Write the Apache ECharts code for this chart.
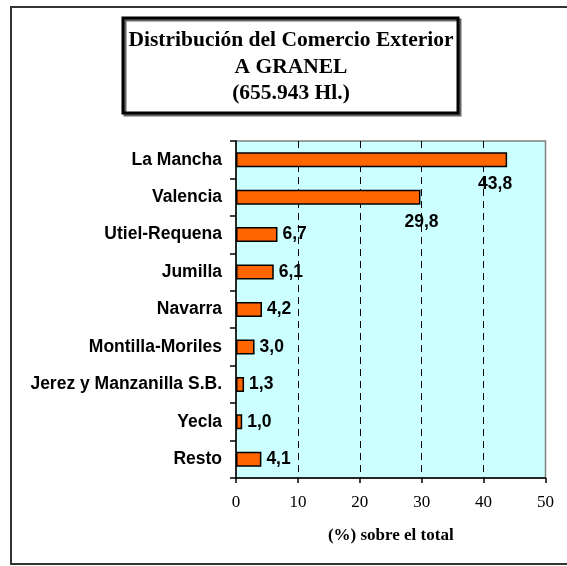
<!DOCTYPE html>
<html>
<head>
<meta charset="utf-8">
<script src="https://cdn.jsdelivr.net/npm/echarts@6/dist/echarts.min.js"></script>
<style>
  html, body { margin: 0; padding: 0; background: #fff; }
  #chart { width: 567px; height: 566px; }
</style>
</head>
<body>
<div id="chart"></div>
<script>
// datos
const categorias = ['La Mancha', 'Valencia', 'Utiel-Requena', 'Jumilla', 'Navarra',
  'Montilla-Moriles', 'Jerez y Manzanilla S.B.', 'Yecla', 'Resto'];
const porcentajes = [43.8, 29.8, 6.7, 6.1, 4.2, 3.0, 1.3, 1.0, 4.1];
const tituloLineas = ['Distribución del Comercio Exterior', 'A GRANEL', '(655.943 Hl.)'];
const ejeNombre = '(%) sobre el total';

const chart = echarts.init(document.getElementById('chart'));

// las dos barras largas llevan la etiqueta debajo del extremo
const labelBajo = {
  0: { offset: [-34, 24] },
  1: { offset: [-21, 25] }
};

chart.setOption({
  animation: false,
  graphic: [{
    type: 'rect',
    shape: { x: 11, y: 7, width: 560, height: 557 },
    style: { fill: 'none', stroke: '#333', lineWidth: 2 },
    silent: true
  }, {
    type: 'rect',
    shape: { x: 123, y: 18, width: 335, height: 95 },
    style: {
      fill: '#fff', stroke: '#000', lineWidth: 3,
      shadowColor: '#666', shadowOffsetX: 2, shadowOffsetY: 2, shadowBlur: 0
    },
    silent: true
  }, {
    type: 'text',
    x: 291,
    y: 67,
    style: {
      text: tituloLineas.join('\n'),
      font: 'bold 21.5px "Liberation Serif"',
      lineHeight: 26.5,
      fill: '#000',
      align: 'center',
      verticalAlign: 'middle'
    },
    silent: true
  }],
  grid: {
    left: 236,
    right: 21.5,
    top: 141,
    bottom: 88,
    show: true,
    backgroundColor: '#CCFFFF',
    borderColor: '#808080',
    borderWidth: 1.5
  },
  xAxis: {
    type: 'value',
    min: 0,
    max: 50,
    interval: 10,
    name: ejeNombre,
    nameLocation: 'middle',
    nameGap: 49,
    nameTextStyle: {
      fontFamily: 'Liberation Serif',
      fontWeight: 'bold',
      fontSize: 17,
      color: '#000'
    },
    axisLine: { show: true, lineStyle: { color: '#000', width: 1.5 } },
    axisTick: { show: true, length: 5, lineStyle: { color: '#000', width: 1.5 } },
    axisLabel: {
      margin: 16,
      fontFamily: 'Liberation Serif',
      fontSize: 17,
      color: '#000'
    },
    splitLine: {
      show: true,
      showMinLine: false,
      showMaxLine: false,
      lineStyle: { color: '#000', type: [7, 5], width: 1 }
    }
  },
  yAxis: {
    type: 'category',
    inverse: true,
    data: categorias,
    axisLine: { show: true, lineStyle: { color: '#000', width: 1.5 } },
    axisTick: { show: true, length: 6, lineStyle: { color: '#000', width: 1.5 } },
    axisLabel: {
      margin: 14,
      fontFamily: 'Liberation Sans',
      fontWeight: 'bold',
      fontSize: 17.5,
      color: '#000'
    }
  },
  series: [{
    type: 'bar',
    barWidth: 15,
    itemStyle: {
      color: '#FF6600',
      borderColor: '#000',
      borderWidth: 1.5
    },
    label: {
      show: true,
      position: 'right',
      distance: 5,
      fontFamily: 'Liberation Sans',
      fontWeight: 'bold',
      fontSize: 17.5,
      color: '#000',
      formatter: p => p.value.toFixed(1).replace('.', ',')
    },
    data: porcentajes.map((v, i) => labelBajo[i]
      ? { value: v, label: labelBajo[i] }
      : v)
  }]
});
</script>
</body>
</html>
